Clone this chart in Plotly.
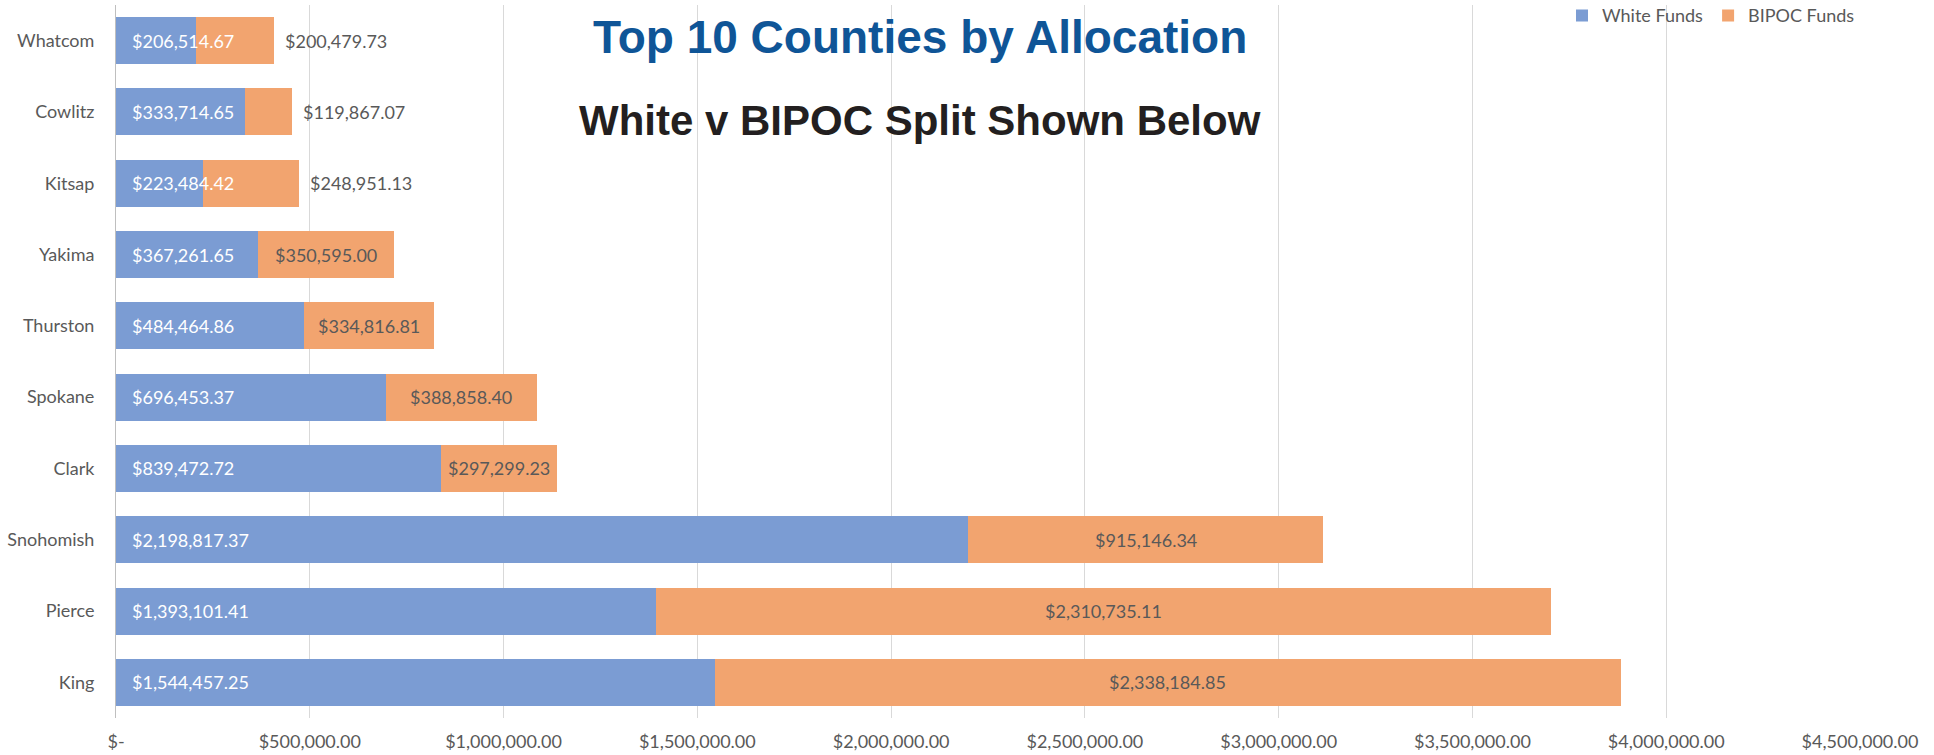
import plotly.graph_objects as go

# County allocations, listed top to bottom as drawn
counties = ["Whatcom", "Cowlitz", "Kitsap", "Yakima", "Thurston",
            "Spokane", "Clark", "Snohomish", "Pierce", "King"]
white_funds = [206514.67, 333714.65, 223484.42, 367261.65, 484464.86,
               696453.37, 839472.72, 2198817.37, 1393101.41, 1544457.25]
bipoc_funds = [200479.73, 119867.07, 248951.13, 350595.00, 334816.81,
               388858.40, 297299.23, 915146.34, 2310735.11, 2338184.85]
tick_values = [0, 500000, 1000000, 1500000, 2000000, 2500000,
               3000000, 3500000, 4000000, 4500000]

BLUE = "#7B9CD3"
ORANGE = "#F2A46F"
GREY_TEXT = "#595959"
LABEL_FONT = "Lato"
MIN_INSIDE_LABEL = 250000  # narrower BIPOC segments get their label past the bar end


def money(v):
    return f"${v:,.2f}"


def tick_text(v):
    return "$-" if v == 0 else money(v)


fig = go.Figure()
fig.add_bar(y=counties, x=white_funds, orientation="h", name="White Funds",
            marker=dict(color=BLUE, line=dict(width=0)))
fig.add_bar(y=counties, x=bipoc_funds, orientation="h", name="BIPOC Funds",
            marker=dict(color=ORANGE, line=dict(width=0)))

annotations = []
for county, w, b in zip(counties, white_funds, bipoc_funds):
    # white-funds value, anchored at the start of the bar
    annotations.append(dict(
        x=0, y=county, xref="x", yref="y", text=money(w), showarrow=False,
        xanchor="left", xshift=14,
        font=dict(family=LABEL_FONT, size=18, color="white")))
    # BIPOC value, centred in its segment or just past the bar end
    if b >= MIN_INSIDE_LABEL:
        annotations.append(dict(
            x=w + b / 2, y=county, xref="x", yref="y", text=money(b),
            showarrow=False, xanchor="center",
            font=dict(family=LABEL_FONT, size=18, color=GREY_TEXT)))
    else:
        annotations.append(dict(
            x=w + b, y=county, xref="x", yref="y", text=money(b),
            showarrow=False, xanchor="left", xshift=9,
            font=dict(family=LABEL_FONT, size=18, color=GREY_TEXT)))

annotations.append(dict(
    x=0.461, y=0.955, xref="paper", yref="paper", showarrow=False,
    text="<b>Top 10 Counties by Allocation</b>", xanchor="center", yanchor="middle",
    font=dict(family="Liberation Sans, Arial", size=46, color="#0F5597")))
annotations.append(dict(
    x=0.461, y=0.838, xref="paper", yref="paper", showarrow=False,
    text="<b>White v BIPOC Split Shown Below</b>", xanchor="center", yanchor="middle",
    font=dict(family="Liberation Sans, Arial", size=42, color="#231F20")))

fig.update_layout(
    width=1934, height=755,
    margin=dict(l=116, r=74, t=5, b=37, autoexpand=False),
    barmode="stack", bargap=0.34,
    paper_bgcolor="white", plot_bgcolor="white",
    font=dict(family=LABEL_FONT, color=GREY_TEXT),
    annotations=annotations,
    showlegend=True,
    legend=dict(orientation="h", x=1.0, xanchor="right", y=0.985, yanchor="middle",
                font=dict(family=LABEL_FONT, size=18, color=GREY_TEXT),
                bgcolor="rgba(0,0,0,0)", itemwidth=30, traceorder="normal"),
    xaxis=dict(range=[0, 4500000], tickvals=tick_values,
               ticktext=[tick_text(v) for v in tick_values],
               showgrid=True, gridcolor="#D9D9D9", gridwidth=1,
               zeroline=False, showline=False, ticks="",
               ticklabelstandoff=11,
               tickfont=dict(family=LABEL_FONT, size=18, color=GREY_TEXT),
               layer="above traces", fixedrange=True),
    yaxis=dict(autorange="reversed", showgrid=False, zeroline=False,
               showline=True, linecolor="#BFBFBF", linewidth=1, ticks="",
               ticklabelstandoff=17,
               tickfont=dict(family=LABEL_FONT, size=18, color=GREY_TEXT),
               fixedrange=True),
)

fig.write_html("out.html")
